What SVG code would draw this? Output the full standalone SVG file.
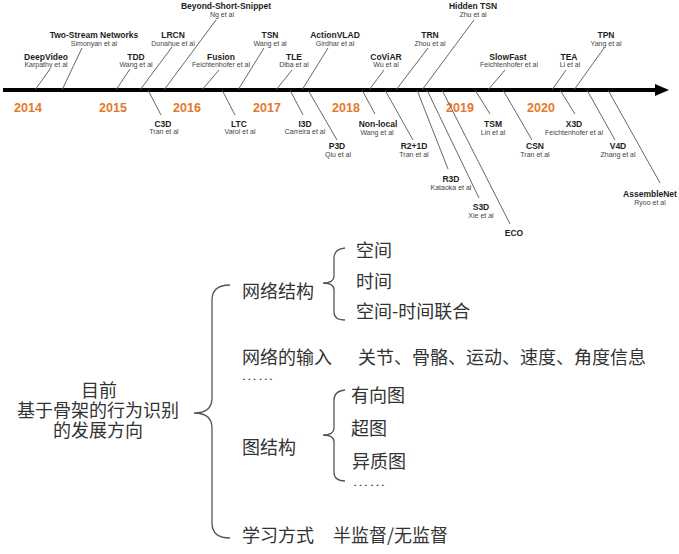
<svg xmlns="http://www.w3.org/2000/svg" width="679" height="554" viewBox="0 0 679 554">
<style>
.t{font-family:"Liberation Sans",Arial,sans-serif;font-weight:bold;font-size:8.5px;fill:#1e1e1e;text-anchor:middle}
.s{font-family:"Liberation Sans",Arial,sans-serif;font-size:7px;fill:#444;text-anchor:middle}
.y{font-family:"Liberation Sans",Arial,sans-serif;font-weight:bold;font-size:12.5px;fill:#E5782A;text-anchor:middle}
.c{font-family:"Noto Sans CJK SC","Noto Sans",sans-serif;font-size:18px;fill:#333}
.cm{font-family:"Noto Sans CJK SC","Noto Sans",sans-serif;font-size:18px;fill:#333;text-anchor:middle}
.d{font-family:"Liberation Sans",Arial,sans-serif;font-size:11px;fill:#444}
.l{stroke:#555;stroke-width:0.9;fill:none}
.b{stroke:#555;stroke-width:1.3;fill:none}
</style>
<rect width="679" height="554" fill="#fff"/>
<g id="axis">
<line x1="3" y1="90" x2="658" y2="90" stroke="#000" stroke-width="4"/>
<polygon points="655,84 669,90 655,96" fill="#000"/>
</g>
<g id="years">
<text class="y" x="28" y="112">2014</text>
<text class="y" x="113" y="112">2015</text>
<text class="y" x="187" y="112">2016</text>
<text class="y" x="267" y="112">2017</text>
<text class="y" x="346" y="112">2018</text>
<text class="y" x="460" y="112">2019</text>
<text class="y" x="541" y="112">2020</text>
</g>
<g id="connectors">
<line class="l" x1="50" y1="69" x2="35" y2="90"/>
<line class="l" x1="82" y1="48" x2="62" y2="90"/>
<line class="l" x1="130" y1="69" x2="116" y2="90"/>
<line class="l" x1="172" y1="47" x2="140" y2="90"/>
<line class="l" x1="216" y1="20" x2="164" y2="90"/>
<line class="l" x1="219" y1="70" x2="202" y2="90"/>
<line class="l" x1="264" y1="48" x2="238" y2="90"/>
<line class="l" x1="292" y1="70" x2="276" y2="90"/>
<line class="l" x1="328" y1="48" x2="302" y2="90"/>
<line class="l" x1="384" y1="70" x2="369" y2="90"/>
<line class="l" x1="428" y1="48" x2="396" y2="90"/>
<line class="l" x1="474" y1="20" x2="422" y2="90"/>
<line class="l" x1="505" y1="70" x2="488" y2="90"/>
<line class="l" x1="566" y1="70" x2="552" y2="90"/>
<line class="l" x1="604" y1="48" x2="574" y2="90"/>
<line class="l" x1="148" y1="90" x2="161" y2="115"/>
<line class="l" x1="222" y1="90" x2="235" y2="115"/>
<line class="l" x1="290" y1="90" x2="303" y2="115"/>
<line class="l" x1="308" y1="90" x2="337" y2="140"/>
<line class="l" x1="362" y1="90" x2="375" y2="114"/>
<line class="l" x1="385" y1="90" x2="413" y2="140"/>
<line class="l" x1="417" y1="90" x2="448" y2="169"/>
<line class="l" x1="427" y1="90" x2="479" y2="198"/>
<line class="l" x1="442" y1="90" x2="510" y2="224"/>
<line class="l" x1="475" y1="90" x2="490" y2="114"/>
<line class="l" x1="503" y1="90" x2="532" y2="140"/>
<line class="l" x1="560" y1="90" x2="575" y2="114"/>
<line class="l" x1="587" y1="90" x2="615" y2="140"/>
<line class="l" x1="608" y1="90" x2="660" y2="183"/>
</g>
<g id="deepvideo"><text class="t" x="46" y="60">DeepVideo</text><text class="s" x="46" y="67">Karpathy et al</text></g>
<g id="twostream"><text class="t" x="94" y="38">Two-Stream Networks</text><text class="s" x="94" y="45.5">Simonyan et al</text></g>
<g id="tdd"><text class="t" x="136" y="60">TDD</text><text class="s" x="136" y="67">Wang et al</text></g>
<g id="lrcn"><text class="t" x="173" y="38">LRCN</text><text class="s" x="173" y="45.5">Donahue et al</text></g>
<g id="beyond"><text class="t" x="226" y="9">Beyond-Short-Snippet</text><text class="s" x="222" y="16.5">Ng et al</text></g>
<g id="fusion"><text class="t" x="221" y="60">Fusion</text><text class="s" x="221" y="67">Feichtenhofer et al</text></g>
<g id="tsn"><text class="t" x="270" y="38">TSN</text><text class="s" x="270" y="45.5">Wang et al</text></g>
<g id="tle"><text class="t" x="294" y="60">TLE</text><text class="s" x="294" y="67">Diba et al</text></g>
<g id="actionvlad"><text class="t" x="335" y="38">ActionVLAD</text><text class="s" x="335" y="45.5">Girdhar et al</text></g>
<g id="coviar"><text class="t" x="386" y="60">CoViAR</text><text class="s" x="386" y="67">Wu et al</text></g>
<g id="trn"><text class="t" x="430" y="38">TRN</text><text class="s" x="430" y="45.5">Zhou et al</text></g>
<g id="hiddentsn"><text class="t" x="473" y="9">Hidden TSN</text><text class="s" x="473" y="16.5">Zhu et al</text></g>
<g id="slowfast"><text class="t" x="508" y="60">SlowFast</text><text class="s" x="509" y="67">Feichtenhofer et al</text></g>
<g id="tea"><text class="t" x="569" y="60">TEA</text><text class="s" x="570" y="67">Li et al</text></g>
<g id="tpn"><text class="t" x="606" y="38">TPN</text><text class="s" x="606" y="45.5">Yang et al</text></g>
<g id="c3d"><text class="t" x="163" y="126.5">C3D</text><text class="s" x="164" y="133.5">Tran et al</text></g>
<g id="ltc"><text class="t" x="239" y="126.5">LTC</text><text class="s" x="240" y="133.5">Varol et al</text></g>
<g id="i3d"><text class="t" x="305" y="126.5">I3D</text><text class="s" x="305" y="133.5">Carreira et al</text></g>
<g id="p3d"><text class="t" x="337" y="149">P3D</text><text class="s" x="338" y="157">Qiu et al</text></g>
<g id="nonlocal"><text class="t" x="378" y="127">Non-local</text><text class="s" x="377" y="134.5">Wang et al</text></g>
<g id="r21d"><text class="t" x="414" y="149">R2+1D</text><text class="s" x="414" y="157">Tran et al</text></g>
<g id="r3d"><text class="t" x="451" y="182">R3D</text><text class="s" x="451" y="189.5">Kataoka et al</text></g>
<g id="s3d"><text class="t" x="481" y="210">S3D</text><text class="s" x="481" y="217.5">Xie et al</text></g>
<g id="eco"><text class="t" x="514" y="236">ECO</text></g>
<g id="tsm"><text class="t" x="493" y="127">TSM</text><text class="s" x="493" y="134.5">Lin et al</text></g>
<g id="csn"><text class="t" x="535" y="149">CSN</text><text class="s" x="535" y="157">Tran et al</text></g>
<g id="x3d"><text class="t" x="574" y="127">X3D</text><text class="s" x="574" y="134.5">Feichtenhofer et al</text></g>
<g id="v4d"><text class="t" x="618" y="149">V4D</text><text class="s" x="618" y="157">Zhang et al</text></g>
<g id="assemblenet"><text class="t" x="650" y="197">AssembleNet</text><text class="s" x="650" y="204.5">Ryoo et al</text></g>
<g id="root">
<text class="cm" x="99" y="397">目前</text>
<text class="cm" x="98" y="417">基于骨架的行为识别</text>
<text class="cm" x="98" y="437">的发展方向</text>
</g>
<g id="braces">
<path class="b" d="M230 285 Q212 285 212 300 L212 398 Q212 413 194 413 Q212 413 212 428 L212 523 Q212 538 230 538"/>
<path class="b" d="M345 248 Q334 249 334 258 L334 276 Q334 283 323 283 Q334 283 334 290 L334 312 Q334 320 345 320"/>
<path class="b" d="M345 390 Q334 391 334 400 L334 428 Q334 435 323 435 Q334 435 334 442 L334 472 Q334 481 345 481"/>
</g>
<g id="wangluojiegou">
<text class="c" x="242" y="298">网络结构</text>
<text class="c" x="356" y="257">空间</text>
<text class="c" x="356" y="288">时间</text>
<text class="c" x="356" y="318">空间-时间联合</text>
</g>
<g id="shuru">
<text class="c" x="242" y="364">网络的输入</text>
<text class="c" x="358" y="364">关节、骨骼、运动、速度、角度信息</text>
<text class="d" x="241" y="380" textLength="33" lengthAdjust="spacingAndGlyphs">……</text>
</g>
<g id="tujiegou">
<text class="c" x="242" y="454">图结构</text>
<text class="c" x="351" y="402">有向图</text>
<text class="c" x="351" y="435">超图</text>
<text class="c" x="352" y="468">异质图</text>
<text class="d" x="352" y="486" textLength="34" lengthAdjust="spacingAndGlyphs">……</text>
</g>
<g id="xuexi">
<text class="c" x="242" y="542">学习方式</text>
<text class="c" x="333" y="542">半监督/无监督</text>
</g>
</svg>
